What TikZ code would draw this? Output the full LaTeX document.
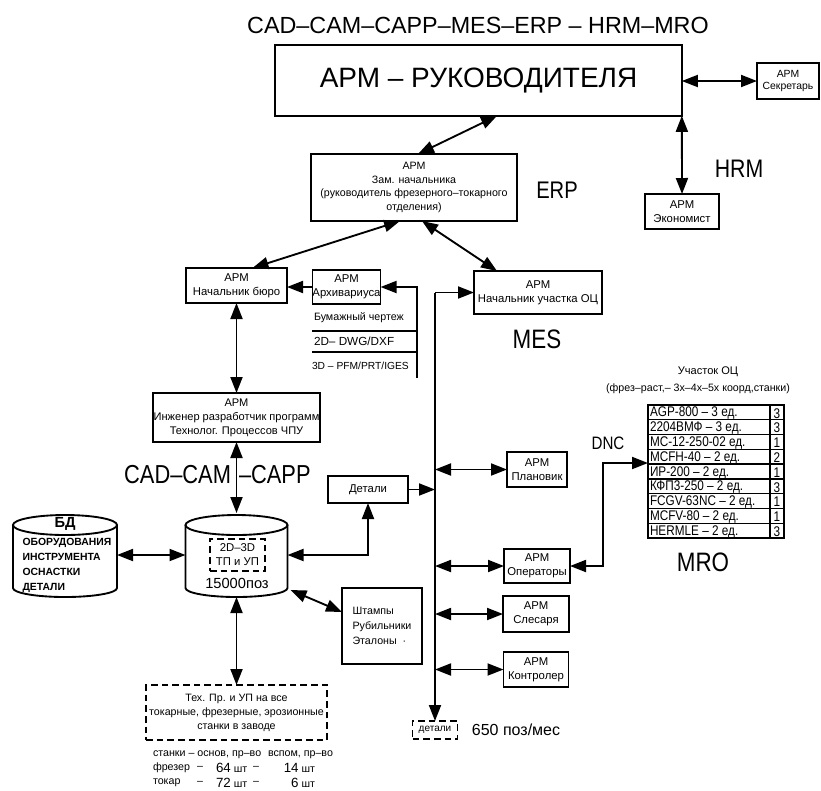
\documentclass[tikz,border=0pt]{standalone}
\usepackage{fontspec}
\setmainfont{Liberation Sans}
\newfontfamily\cond{Liberation Sans}[FakeStretch=0.84]
\usetikzlibrary{arrows.meta,calc}
\newcommand{\fsz}[2]{\fontsize{#1}{#2}\selectfont}
\begin{document}
\begin{tikzpicture}[x=0.75pt,y=-0.75pt,
  every node/.style={inner sep=0pt, outer sep=0pt},
  ln/.style={line width=1.4pt},
  box/.style={draw, line width=1.4pt, align=center, font=\fsz{8.5}{10.5}},
  dashbox/.style={draw, line width=1.4pt, dash pattern=on 5pt off 3pt, align=center},
  dbl/.style={ln, {Triangle[length=12pt,width=9pt]}-{Triangle[length=12pt,width=9pt]}},
  arr/.style={ln, -{Triangle[length=12pt,width=9pt]}},
  biglbl/.style={font={\cond\fsz{19}{22}}}
]
\useasboundingbox (0,0) rectangle (821,790);

% title and top box
\node[font=\fsz{17.5}{20}] (title) at (478,25) {CAD–CAM–CAPP–MES–ERP – HRM–MRO};
\node[box, minimum width=305pt, minimum height=53pt, font=\fsz{21}{24}] (main) at (478.5,80.5) {АРМ – РУКОВОДИТЕЛЯ};
\node[box, minimum width=46.5pt, minimum height=27pt, font=\fsz{7.8}{9.5}] (sec) at (788,81) {АРМ\\Секретарь};
\draw[dbl] (sec.west -| main.east) -- (sec.west);
\node[box, minimum width=55.5pt, minimum height=26.25pt] (econ) at (682,211.5) {АРМ\\Экономист};
\draw[dbl] (main.south east) -- (econ.north);
\node[biglbl] (hrm) at (739,169) {HRM};

% ERP
\node[box, minimum width=154.5pt, minimum height=50.25pt, font=\fsz{8}{10.3}] (erp) at (414,187.5) {АРМ\\Зам. начальника\\(руководитель фрезерного–токарного\\отделения)};
\node[font={\cond\fsz{18}{20}}] (erpl) at (557,190) {ERP};
\draw[dbl] ($(erp.north)+(4,0)$) -- ($(main.south)+(18.5,0)$);

% bureau chief and archive
\node[box, minimum width=75.75pt, minimum height=26.25pt] (nb) at (236.5,285.5) {АРМ\\Начальник бюро};
\draw[dbl] ($(erp.south)+(-14,0)$) -- ($(nb.north)+(16,0)$);
\node[box, minimum width=48.75pt, minimum height=25.5pt] (arch) at (346.5,287) {АРМ\\Архивариуса};
\draw[arr] (arch.west) -- (arch.west -| nb.east);
\coordinate (at) at (417,287);
\coordinate (ab) at (417,378);
\coordinate (l1) at (417,331);
\coordinate (l2) at (417,352);
\draw[arr] (ab) -- (at) -- (arch.east);
\draw[ln] (l1 -| arch.west) -- (l1);
\draw[ln] (l2 -| arch.west) -- (l2);
\node[anchor=west, font=\fsz{8}{10}] (t1) at (314,318) {Бумажный чертеж};
\node[anchor=west, font=\fsz{8.8}{10}] (t2) at (314,341) {2D– DWG/DXF};
\node[anchor=west, font=\fsz{7.7}{10}] (t3) at (312,366) {3D – PFM/PRT/IGES};

% section chief
\node[box, minimum width=96pt, minimum height=32.25pt] (nuc) at (538,292.5) {АРМ\\Начальник участка ОЦ};
\draw[dbl] ($(erp.south)+(8,0)$) -- ($(nuc.north)+(-41,0)$);
\node[font={\cond\fsz{20}{22}}] (mes) at (537,339) {MES};

% engineer
\node[box, minimum width=125.25pt, minimum height=36.75pt, font=\fsz{8.3}{10.5}] (ing) at (236.5,417.5) {АРМ\\Инженер разработчик программ\\Технолог. Процессов ЧПУ};
\draw[dbl] (nb.south) -- (ing.north);
\node[font={\cond\fsz{19.5}{22}}, anchor=east] (cc) at (231,475) {CAD–CAM};
\node[font={\cond\fsz{19.5}{22}}, anchor=west] (capp) at (239,475) {–CAPP};

% main database cylinder
\node[minimum width=76.5pt, minimum height=63pt] (cyl) at (236.5,555) {};
\draw[ln] (236.5,525) ellipse [x radius=38.25pt, y radius=7.5pt];
\draw[ln] (185.5,525) -- (185.5,588) arc[start angle=180, end angle=360, x radius=38.25pt, y radius=6.75pt] -- (287.5,525);
\node[dashbox, minimum width=41.25pt, minimum height=24pt, font=\fsz{8.5}{10.5}] (tpup) at (237.5,555) {2D–3D\\ТП и УП};
\node[font=\fsz{11}{13}] (poz) at (237,583) {15000поз};
\draw[dbl] (ing.south) -- (cyl.north);

% BD cylinder
\node[minimum width=78pt, minimum height=63pt] (bd) at (65,555) {};
\draw[ln] (65,525) ellipse [x radius=39pt, y radius=7.5pt];
\draw[ln] (13,525) -- (13,588) arc[start angle=180, end angle=360, x radius=39pt, y radius=6.75pt] -- (117,525);
\node[font=\bfseries\fsz{11}{13}] (bdh) at (65,524) {БД};
\node[align=left, font=\bfseries\fsz{7.8}{11.25}] (bdt) at (67,565) {ОБОРУДОВАНИЯ\\ИНСТРУМЕНТА\\ОСНАСТКИ\\ДЕТАЛИ};
\draw[dbl] (bd.east) -- (cyl.west);

% details box
\node[box, minimum width=60pt, minimum height=20.25pt] (det) at (368,489.5) {Детали};
\draw[dbl] (det.south) |- (cyl.east);

% stamps
\node[box, minimum width=60pt, minimum height=57pt, align=left, font=\fsz{8}{11.25}] (sh) at (382,626) {Штампы\\Рубильники\\Эталоны\ \ ·};
\draw[dbl] ($(cyl.south east)+(3,-7)$) -- ($(sh.west)+(0,-14)$);

% technology box
\node[dashbox, minimum width=135.75pt, minimum height=41.25pt, font=\fsz{8}{10.5}] (tech) at (236.5,712.5) {Тех. Пр. и УП на все\\токарные, фрезерные, эрозионные\\станки в заводе};
\draw[dbl] (cyl.south) -- (tech.north);
\node[anchor=west, font=\fsz{8}{10}] (s1) at (153,755) {станки – основ, пр–во};
\node[anchor=west, font=\fsz{8}{10}] (s2) at (268,755) {вспом, пр–во};
\node[anchor=west, font=\fsz{8}{10}] (f1) at (153,768) {фрезер};
\node[font=\fsz{8}{10}] (f2) at (200,768) {–};
\node[anchor=west, font=\fsz{8}{10}] (f3) at (216,768) {{\fsz{10}{12}64} шт};
\node[font=\fsz{8}{10}] (f4) at (256,768) {–};
\node[anchor=east, font=\fsz{8}{10}] (f5) at (315,768) {{\fsz{10}{12}14} шт};
\node[anchor=west, font=\fsz{8}{10}] (k1) at (153,783) {токар};
\node[font=\fsz{8}{10}] (k2) at (200,783) {–};
\node[anchor=west, font=\fsz{8}{10}] (k3) at (216,783) {{\fsz{10}{12}72} шт};
\node[font=\fsz{8}{10}] (k4) at (256,783) {–};
\node[anchor=east, font=\fsz{8}{10}] (k5) at (315,783) {{\fsz{10}{12}6} шт};

% bus
\coordinate (bt) at (435,292.5);
\node[dashbox, minimum width=33.75pt, minimum height=13.5pt, font=\fsz{7.5}{9}] (detali) at (435,730) {детали};
\node[font=\fsz{12}{14}] (pm) at (516,730) {650 поз/мес};
\draw[arr] (bt) -- (nuc.west);
\draw[arr] (bt) -- (detali.north);
\draw[arr] (det.east) -- (det.east -| bt);
\node[box, minimum width=45pt, minimum height=26.25pt] (plan) at (537,469.5) {АРМ\\Плановик};
\node[box, minimum width=49.5pt, minimum height=25.5pt] (oper) at (537,566) {АРМ\\Операторы};
\node[box, minimum width=49.5pt, minimum height=27pt] (sles) at (536,614) {АРМ\\Слесаря};
\node[box, minimum width=48.75pt, minimum height=26.25pt] (kont) at (536,669.5) {АРМ\\Контролер};
\draw[dbl] (plan.west -| bt) -- (plan.west);
\draw[dbl] (oper.west -| bt) -- (oper.west);
\draw[dbl] (sles.west -| bt) -- (sles.west);
\draw[dbl] (kont.west -| bt) -- (kont.west);

% table
\node[draw, ln, minimum width=102pt, minimum height=99.75pt] (tab) at (716,471.5) {};
\draw[ln] (770,405) -- (770,538);
\foreach \i in {1,...,8} { \draw[line width=1pt] (648,{405+14.78*\i}) -- (784,{405+14.78*\i}); }
\foreach \t/\n [count=\i] in {AGP-800 – 3 ед./3, 2204ВМФ – 3 ед./3, MC-12-250-02 ед./1, MCFH-40 – 2 ед./2, ИР-200 – 2 ед./1, КФП3-250 – 2 ед./3, FCGV-63NC – 2 ед./1, MCFV-80 – 2 ед./1, HERMLE – 2 ед./3} {
  \node[anchor=west, font={\cond\fsz{10.5}{12}}] (r\i) at (650,{405+14.78*\i-6.4}) {\t};
  \node[font={\cond\fsz{10.5}{12}}] (n\i) at (777,{405+14.78*\i-6.4}) {\n};
}
\node[font=\fsz{8.3}{10}] (uoc) at (708,372) {Участок ОЦ};
\node[font=\fsz{8}{10}] (uoc2) at (698,389) {(фрез–раст,– 3х–4х–5х коорд,станки)};
\node[font={\cond\fsz{20}{22}}] (mro) at (703,562) {MRO};
\node[font={\cond\fsz{13.5}{15}}] (dnc) at (608,443) {DNC};
\coordinate (dn) at (603,463);
\draw[dbl] (oper.east) -| (dn) -- (dn -| tab.west);
\end{tikzpicture}
\end{document}
